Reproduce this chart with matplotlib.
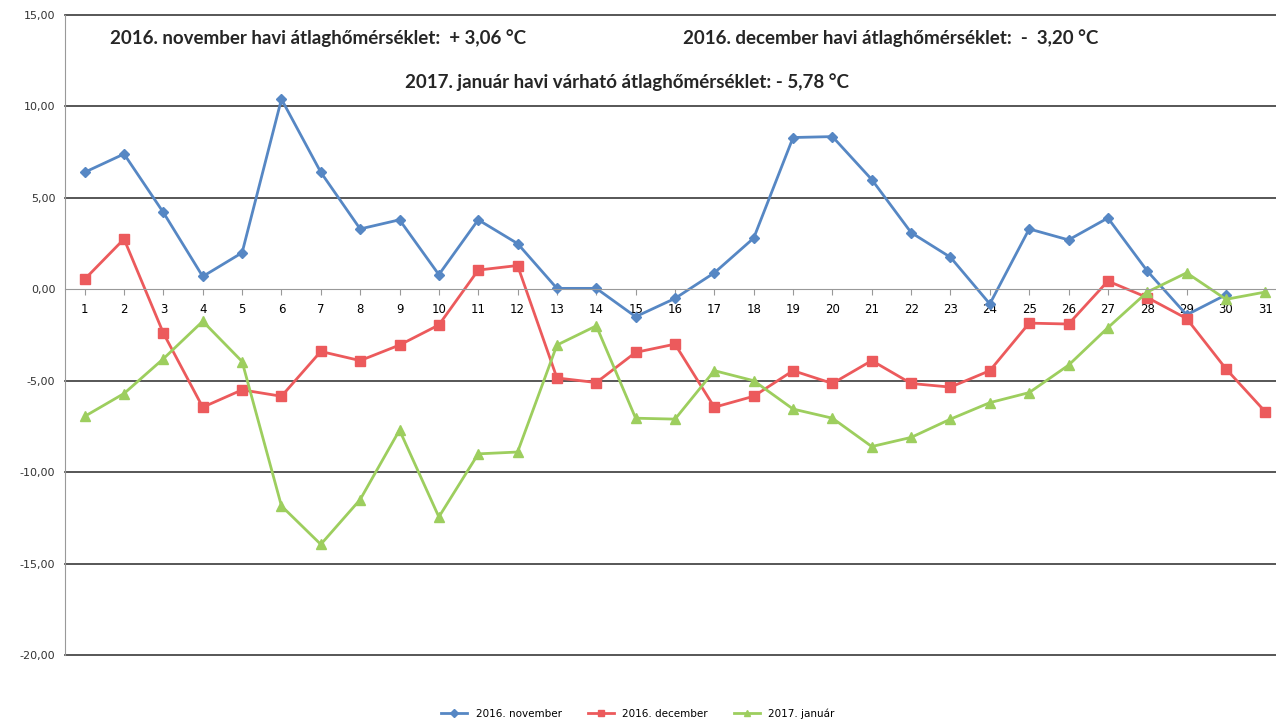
import numpy as np
import matplotlib
matplotlib.use("Agg")
import matplotlib.pyplot as plt
from matplotlib.ticker import FuncFormatter

days = list(range(1, 32))

# daily mean temperatures (°C)
nov_2016 = [6.4, 7.4, 4.2, 0.7, 2.0, 10.4, 6.4, 3.3, 3.8, 0.8,
            3.8, 2.5, 0.05, 0.05, -1.5, -0.5, 0.9, 2.8, 8.3, 8.35,
            6.0, 3.1, 1.75, -0.8, 3.3, 2.7, 3.9, 1.0, -1.4, -0.3]
dec_2016 = [0.55, 2.75, -2.4, -6.45, -5.5, -5.85, -3.4, -3.9, -3.05, -1.95,
            1.05, 1.3, -4.85, -5.1, -3.45, -3.0, -6.45, -5.85, -4.45, -5.15,
            -3.9, -5.15, -5.35, -4.45, -1.85, -1.9, 0.45, -0.45, -1.6, -4.35,
            -6.7]
jan_2017 = [-6.95, -5.7, -3.8, -1.75, -3.95, -11.85, -13.95, -11.5, -7.7, -12.45,
            -9.0, -8.9, -3.05, -2.0, -7.05, -7.1, -4.45, -5.0, -6.55, -7.05,
            -8.6, -8.1, -7.1, -6.2, -5.65, -4.15, -2.1, -0.15, 0.9, -0.55,
            -0.15]

labels = ["2016. november", "2016. december", "2017. január"]
notes = ["2016. november havi átlaghőmérséklet:  + 3,06 °C",
         "2016. december havi átlaghőmérséklet:  -  3,20 °C",
         "2017. január havi várható átlaghőmérséklet: - 5,78 °C"]

fig = plt.figure(figsize=(12.76, 7.28), dpi=100)
ax = fig.add_axes([65 / 1276, 1 - 655 / 728, 1220 / 1276, 640 / 728])

ax.plot(days[:len(nov_2016)], nov_2016, color="#5687C4", lw=2, marker="D",
        ms=5.5, label=labels[0])
ax.plot(days, dec_2016, color="#EC5A5C", lw=2, marker="s",
        ms=7, label=labels[1])
ax.plot(days, jan_2017, color="#9DCE5E", lw=2, marker="^",
        ms=6.5, label=labels[2])

ax.set_xlim(0.5, 31.5)
ax.set_ylim(-20, 15)
ax.set_yticks(np.arange(-20, 16, 5))
ax.yaxis.set_major_formatter(FuncFormatter(lambda v, p: f"{v:.2f}".replace(".", ",")))
for v in [15, 10, 5, -5, -10, -15, -20]:
    ax.axhline(v, color="#3a3a3a", lw=1.2, zorder=0, clip_on=False)

ax.set_xticks(days)
ax.set_xticklabels([str(d) for d in days])
ax.spines["bottom"].set_position(("data", 0))
ax.spines["bottom"].set_color("#999999")
ax.spines["left"].set_color("#999999")
ax.spines["top"].set_visible(False)
ax.spines["right"].set_visible(False)
ax.tick_params(axis="x", length=4, color="#999999", labelsize=8.5, pad=6,
               direction="out")
ax.tick_params(axis="y", length=0, labelsize=8, labelcolor="#333333", pad=7)

note_style = dict(fontsize=13.5, fontweight="bold", color="#262626",
                  family="Lato", va="center")
fig.text(110 / 1276, 1 - 38 / 728, notes[0], **note_style)
fig.text(683 / 1276, 1 - 38 / 728, notes[1], **note_style)
fig.text(405 / 1276, 1 - 82 / 728, notes[2], **note_style)

fig.legend(loc="lower center", bbox_to_anchor=(0.5, 0.0), ncol=3, frameon=False,
           fontsize=7.5, handlelength=2.5, columnspacing=2.5, markerscale=0.7)

fig.savefig("out.png", dpi=100)
